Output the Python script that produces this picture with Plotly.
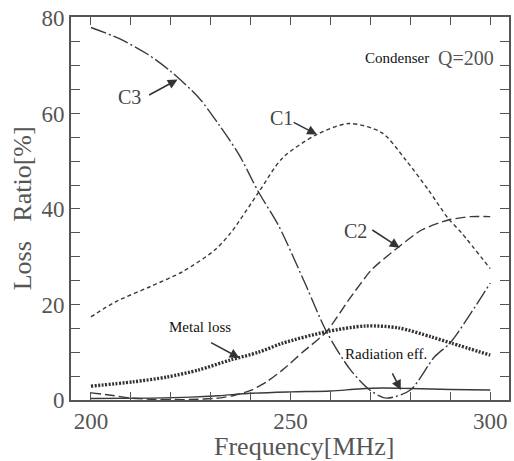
import plotly.graph_objects as go

# ---- data ----
c3_f = [200, 207, 214, 220, 227, 232, 237, 242, 247, 254, 259, 265, 270, 274, 280, 286, 290, 295, 300]
c3_v = [78, 75.7, 72.5, 68.8, 63.3, 57.7, 51.5, 43.5, 36.5, 23.7, 14.3, 6.3, 2.0, 0.4, 2.1, 9.0, 12.0, 18.0, 24.5]

c1_f = [200, 206, 215, 223, 231, 235, 242, 248, 256.6, 264.6, 272.8, 278.8, 284.5, 289.5, 292.8, 300]
c1_v = [17.4, 20.5, 23.8, 26.9, 31.4, 35.0, 43.5, 50.7, 55.6, 57.9, 56.0, 50.3, 44.0, 38.0, 35.0, 27.5]

c2_f = [200, 205, 210, 215, 225, 232, 236, 240, 244, 248, 253, 259, 264.6, 270.3, 277, 282.8, 289.5, 295, 300]
c2_v = [1.5, 1.0, 0.4, 0.15, 0.1, 0.4, 1.0, 2.0, 3.8, 6.3, 10.0, 14.3, 21.0, 27.3, 32.0, 35.6, 37.7, 38.4, 38.4]

metal_f = [200, 210.5, 219, 227, 235, 242, 248, 259, 268.8, 277, 285.3, 290.3, 300]
metal_v = [2.9, 3.8, 4.8, 6.3, 8.4, 10.0, 11.9, 14.3, 15.5, 15.1, 13.2, 11.9, 9.4]

rad_f = [200, 215, 225, 232, 240, 250, 260, 267, 273, 280, 290, 300]
rad_v = [0.3, 0.4, 0.6, 0.9, 1.4, 1.7, 1.9, 2.3, 2.5, 2.4, 2.2, 2.1]

x_tickvals = list(range(200, 301, 10))
x_ticktext = ["200", "", "", "", "", "250", "", "", "", "", "300"]
y_tickvals = list(range(0, 81, 5))
y_ticktext = ["0", "", "", "", "20", "", "", "", "40", "", "", "", "60", "", "", "", "80"]

FONT = "Times New Roman"
LC = "#3a3a3a"
AX = "#555555"

fig = go.Figure()
fig.add_trace(go.Scatter(x=c3_f, y=c3_v, mode="lines", line=dict(color=LC, width=1.4, dash="16px,3px,2px,3px", shape="spline", smoothing=0.8)))
fig.add_trace(go.Scatter(x=c1_f, y=c1_v, mode="lines", line=dict(color=LC, width=1.4, dash="4px,3px", shape="spline", smoothing=0.8)))
fig.add_trace(go.Scatter(x=c2_f, y=c2_v, mode="lines", line=dict(color=LC, width=1.4, dash="10px,4px", shape="spline", smoothing=0.6)))
fig.add_trace(go.Scatter(x=metal_f, y=metal_v, mode="lines", line=dict(color="#333333", width=3.4, dash="2px,1.5px", shape="spline", smoothing=0.8)))
fig.add_trace(go.Scatter(x=rad_f, y=rad_v, mode="lines", line=dict(color=LC, width=1.4, shape="spline", smoothing=0.8)))

# text labels
labels = [
    ("C3", 209.7, 63.5, 20),
    ("C1", 247.6, 59.1, 20),
    ("C2", 266.3, 35.4, 20),
    ("Metal loss", 227.4, 15.3, 15),
    ("Radiation eff.", 273.8, 9.6, 15),
]
for t, x, y, s in labels:
    fig.add_annotation(x=x, y=y, text=t, showarrow=False, xanchor="center", yanchor="middle",
                       font=dict(family=FONT, size=s, color="#111" if s < 16 else "#444"))

arrows = [
    (221.7, 67.1, 214.2, 63.7),
    (256.6, 55.6, 250.4, 58.3),
    (277.3, 31.9, 270.1, 35.8),
    (237.2, 8.8, 229.7, 12.2),
    (277.6, 2.1, 275.3, 5.9),
]
for hx, hy, tx, ty in arrows:
    fig.add_annotation(x=hx, y=hy, ax=tx, ay=ty, axref="x", ayref="y", text="", showarrow=True,
                       arrowhead=2, arrowsize=1.3, arrowwidth=1.5, arrowcolor="#333")

fig.add_annotation(x=0.822, y=71.7, xref="paper", yref="y", text="Condenser", showarrow=False,
                   xanchor="right", yanchor="middle", font=dict(family=FONT, size=15, color="#111"))
fig.add_annotation(x=0.834, y=71.7, xref="paper", yref="y", text="Q=200", showarrow=False,
                   xanchor="left", yanchor="middle", font=dict(family=FONT, size=20, color="#555"))

# axis titles
fig.add_annotation(x=0.532, y=-0.122, xref="paper", yref="paper", text="Frequency[MHz]", showarrow=False,
                   xanchor="center", yanchor="middle", font=dict(family=FONT, size=26, color="#555"))
fig.add_annotation(x=-0.11, y=0.5, xref="paper", yref="paper", text="Loss   Ratio[%]", showarrow=False,
                   textangle=-90, xanchor="center", yanchor="middle", font=dict(family=FONT, size=26, color="#555"))

fig.update_layout(
    width=514, height=461,
    margin=dict(l=71, r=3, t=17, b=61),
    paper_bgcolor="white", plot_bgcolor="white",
    showlegend=False,
    font=dict(family=FONT, color=AX),
)
fig.update_xaxes(range=[195, 304.7], tickvals=x_tickvals, ticktext=x_ticktext, ticks="inside", ticklen=8,
                 tickwidth=1.3, tickcolor=AX, showline=True, linecolor=AX, linewidth=1.6, mirror="allticks",
                 showgrid=False, zeroline=False, tickfont=dict(family=FONT, size=23, color=AX))
fig.update_yaxes(range=[0, 80.2], tickvals=y_tickvals, ticktext=y_ticktext, ticks="inside", ticklen=9,
                 tickwidth=1.3, tickcolor=AX, showline=True, linecolor=AX, linewidth=1.6, mirror="allticks",
                 showgrid=False, zeroline=False, tickfont=dict(family=FONT, size=23, color=AX))

fig.write_html("out.html")
